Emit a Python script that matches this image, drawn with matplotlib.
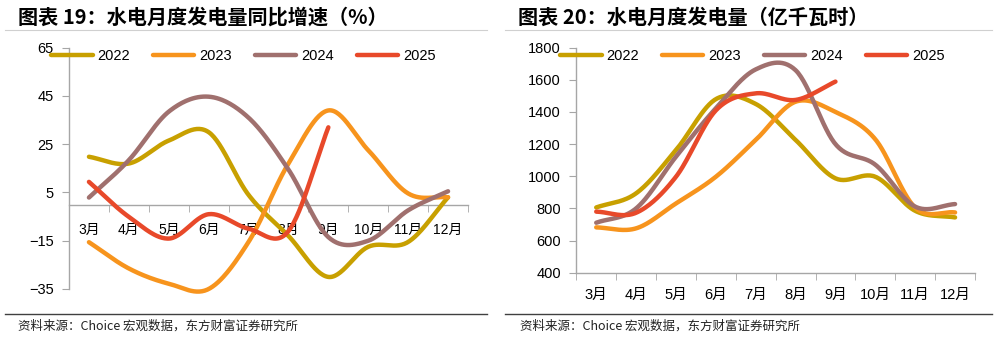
import numpy as np
import matplotlib.pyplot as plt
from matplotlib.lines import Line2D

plt.rcParams['font.family'] = ['Liberation Sans', 'Noto Sans CJK SC', 'DejaVu Sans']

months = ["3月", "4月", "5月", "6月", "7月", "8月", "9月", "10月", "11月", "12月"]
years = ["2022", "2023", "2024", "2025"]
colors = ["#C8A000", "#F7941D", "#A0706E", "#E8492A"]

# 同比增速（%）
yoy_2022 = [19.8, 17.0, 26.5, 30.0, 4.0, -13.0, -30.0, -17.5, -15.5, 3.0]
yoy_2023 = [-15.6, -26.5, -32.8, -35.0, -15.5, 17.0, 39.0, 22.5, 4.6, 3.0]
yoy_2024 = [2.9, 18.4, 38.5, 44.7, 36.0, 14.5, -13.5, -15.0, -2.4, 5.5]
yoy_2025 = [9.4, -5.1, -14.1, -4.0, -10.0, -11.0, 32.0]

# 发电量（亿千瓦时）
gen_2022 = [806, 894, 1163, 1480, 1450, 1226, 987, 997, 785, 744]
gen_2023 = [682, 676, 831, 997, 1226, 1464, 1400, 1230, 805, 775]
gen_2024 = [711, 800, 1122, 1423, 1665, 1660, 1200, 1072, 811, 827]
gen_2025 = [780, 773, 997, 1410, 1516, 1475, 1589]


def smooth(y, n=30):
    # Catmull-Rom，模拟 Excel 的平滑线
    y = np.asarray(y, dtype=float)
    x = np.arange(len(y), dtype=float)
    if len(y) < 3:
        return x, y
    p = np.concatenate([[2 * y[0] - y[1]], y, [2 * y[-1] - y[-2]]])
    xs, ys = [], []
    for i in range(len(y) - 1):
        p0, p1, p2, p3 = p[i], p[i + 1], p[i + 2], p[i + 3]
        t = np.linspace(0, 1, n, endpoint=False)
        m1 = (p2 - p0) / 2
        m2 = (p3 - p1) / 2
        h00 = 2 * t**3 - 3 * t**2 + 1
        h10 = t**3 - 2 * t**2 + t
        h01 = -2 * t**3 + 3 * t**2
        h11 = t**3 - t**2
        ys.append(h00 * p1 + h10 * m1 + h01 * p2 + h11 * m2)
        xs.append(x[i] + t)
    xs.append([x[-1]])
    ys.append([y[-1]])
    return np.concatenate(xs), np.concatenate(ys)


def style_axes(ax):
    for s in ["top", "right"]:
        ax.spines[s].set_visible(False)
    for s in ["left", "bottom"]:
        ax.spines[s].set_color("#A6A6A6")
        ax.spines[s].set_linewidth(1.0)
    ax.set_xlim(-0.5, 9.5)
    ax.set_xticks(np.arange(10))
    ax.set_xticklabels(months, fontsize=10.5)
    ax.set_xticks(np.arange(-0.5, 10, 1), minor=True)
    ax.tick_params(axis="x", which="major", length=0)
    ax.tick_params(axis="x", which="minor", length=5, color="#A6A6A6", direction="out")
    ax.tick_params(axis="y", length=5, color="#A6A6A6", labelsize=10.5, pad=6)


def add_legend(ax, x0):
    handles = [Line2D([], [], color=c, lw=3.2, solid_capstyle="round") for c in colors]
    ax.legend(handles, years, loc="center left", bbox_to_anchor=(x0, 1 - 56.5 / 338),
              bbox_transform=ax.figure.transFigure, ncol=4, frameon=False,
              fontsize=10.5, handlelength=2.85, handletextpad=0.35,
              columnspacing=1.55, borderpad=0, borderaxespad=0)


fig = plt.figure(figsize=(9.97, 3.38), dpi=100)

# 左图
ax1 = fig.add_axes([69 / 997, 1 - 289 / 338, 399 / 997, 241.3 / 338])
for data, c in zip([yoy_2022, yoy_2023, yoy_2024, yoy_2025], colors):
    xs, ys = smooth(data)
    ax1.plot(xs, ys, color=c, lw=3.2, solid_capstyle="round", zorder=3, clip_on=False)
ax1.set_ylim(-35, 65)
ax1.set_yticks([65, 45, 25, 5, -15, -35])
ax1.set_yticklabels(["65", "45", "25", "5", "\u221215", "\u221235"])
style_axes(ax1)
ax1.spines["bottom"].set_position(("data", 0))
ax1.tick_params(axis="x", which="major", pad=13)
add_legend(ax1, 51 / 997)

# 右图
ax2 = fig.add_axes([576.3 / 997, 1 - 272.7 / 338, 398.7 / 997, 225 / 338])
for data, c in zip([gen_2022, gen_2023, gen_2024, gen_2025], colors):
    xs, ys = smooth(data)
    ax2.plot(xs, ys, color=c, lw=3.2, solid_capstyle="round", zorder=3)
ax2.set_ylim(400, 1800)
ax2.set_yticks(np.arange(400, 1801, 200))
style_axes(ax2)
ax2.tick_params(axis="x", which="major", pad=11)
add_legend(ax2, 560 / 997)

# 标题
title_font = ['Noto Sans CJK SC', 'DejaVu Sans']
fig.text(18 / 997, 1 - 17 / 338, "图表 19：水电月度发电量同比增速（%）", fontsize=14.5,
         fontweight="bold", family=title_font, va="center", ha="left")
fig.text(518 / 997, 1 - 17 / 338, "图表 20：水电月度发电量（亿千瓦时）", fontsize=14.5,
         fontweight="bold", family=title_font, va="center", ha="left")

# 分隔线
for xa, xb in [(5, 487), (505, 992)]:
    fig.add_artist(Line2D([xa / 997, xb / 997], [1 - 29.5 / 338] * 2, color="#D0D0D0", lw=0.8))
    fig.add_artist(Line2D([xa / 997, xb / 997], [1 - 314 / 338] * 2, color="#404040", lw=1.0))

src = "资料来源：Choice 宏观数据，东方财富证券研究所"
fig.text(18 / 997, 1 - 326 / 338, src, fontsize=9, family=title_font, va="center",
         ha="left", color="#222222")
fig.text(520 / 997, 1 - 326 / 338, src, fontsize=9, family=title_font, va="center",
         ha="left", color="#222222")

fig.savefig("out.png", dpi=100)
